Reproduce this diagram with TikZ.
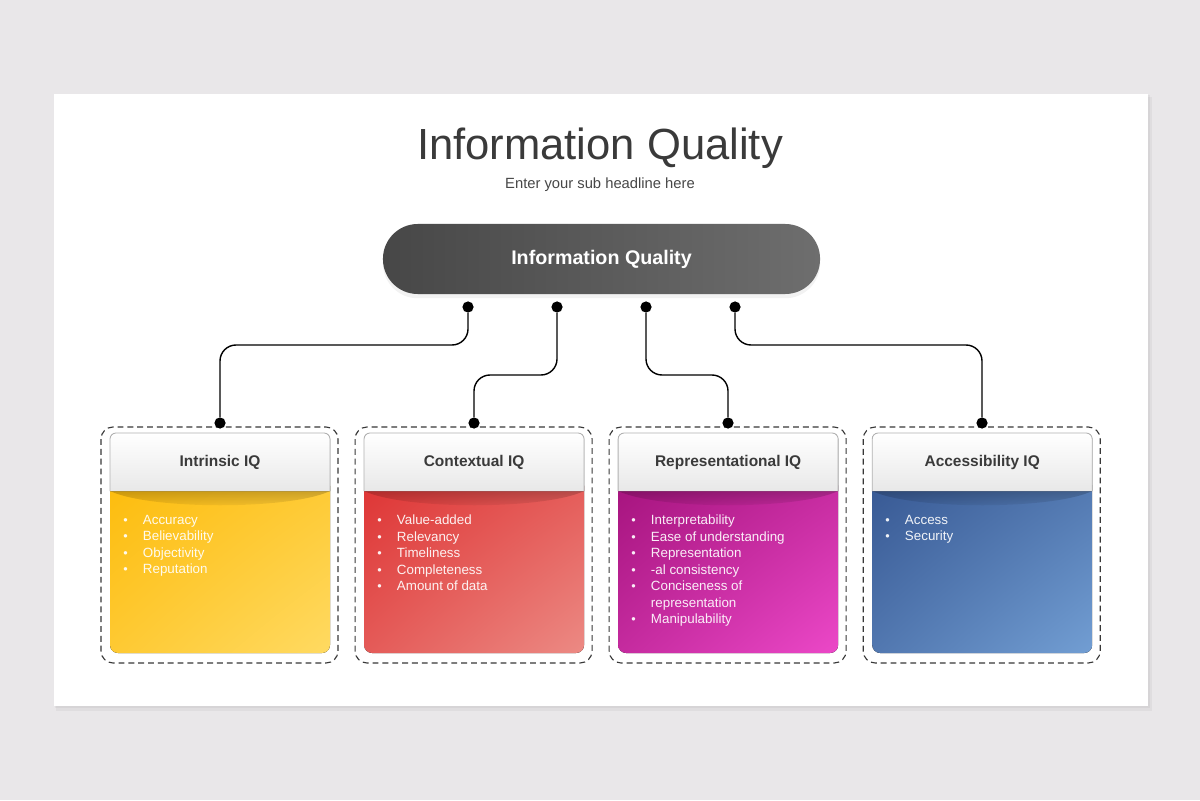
\documentclass[tikz,border=0pt]{standalone}
\usepackage{fontspec}
\setmainfont{Liberation Sans}
\usepackage{xcolor}
\usetikzlibrary{positioning,calc,shadows,shadings,fadings}

\definecolor{pagebg}{HTML}{E9E7E9}
\definecolor{titlegray}{HTML}{3A3A3A}
\definecolor{pillleft}{HTML}{474747}
\definecolor{pillright}{HTML}{6E6E6E}
\definecolor{ylwA}{HTML}{FDBC0C}
\definecolor{ylwB}{HTML}{FFDA62}
\definecolor{redA}{HTML}{DE3434}
\definecolor{redB}{HTML}{EC8A84}
\definecolor{magA}{HTML}{A5137D}
\definecolor{magB}{HTML}{EC48C8}
\definecolor{bluA}{HTML}{375893}
\definecolor{bluB}{HTML}{729ED3}

\newcommand{\bitem}{\makebox[14pt][l]{\fontsize{9}{9}\selectfont\textbullet}}

\begin{document}
\begin{tikzpicture}[x=0.025cm, y=-0.025cm,
    dot/.style={circle, fill=black, inner sep=0pt, minimum size=2.8mm},
    wire/.style={line width=1pt, rounded corners=4mm},
    pill/.style={rectangle, rounded corners=8.7mm, left color=pillleft, right color=pillright, minimum width=109.25mm, minimum height=17.5mm, text=white, font=\bfseries\fontsize{14}{16}\selectfont, drop shadow={opacity=0.1, shadow xshift=0pt, shadow yshift=-3pt}},
    dashbox/.style={draw=black!78, dash pattern=on 4.2pt off 2.8pt, line width=0.8pt, rounded corners=3mm},
    headbox/.style={draw=black!30, line width=0.6pt, top color=white, bottom color=black!9, rounded corners=1.5mm},
    headtext/.style={font=\bfseries\fontsize{11}{13}\selectfont, text=titlegray},
    items/.style={anchor=north west, inner sep=0pt, align=left, text=white, text opacity=0.92, font=\fontsize{9.5}{11.7}\selectfont}
  ]
  % page and slide
  \fill[pagebg] (0,0) rectangle (1200,800);
  \useasboundingbox (0,0) rectangle (1200,800);
  \fill[black, opacity=0.04] (56,97) rectangle (1152,711);
  \fill[black, opacity=0.04] (55,95) rectangle (1150,708);
  \fill[white] (54,94) rectangle (1148,706);

  % headline
  \node[anchor=base, font=\fontsize{31}{36}\selectfont, text=titlegray] (title) at (600,160) {Information Quality};
  \node[anchor=base, font=\fontsize{10.5}{12}\selectfont, text=black!72] (subtitle) at (600,189) {Enter your sub headline here};

  % main pill
  \node[pill] (iq) at (601.5,259) {Information Quality};

  % cards
  \foreach \i/\ca/\cb/\hd in {0/ylwA/ylwB/Intrinsic IQ, 1/redA/redB/Contextual IQ, 2/magA/magB/Representational IQ, 3/bluA/bluB/Accessibility IQ}{
    \begin{scope}[xshift=\i*6.35cm]
      \draw[dashbox] (101,427) rectangle (338,663);
      \fill[upper left=\ca, upper right=\ca!55!\cb, lower left=\ca!55!\cb, lower right=\cb, rounded corners=2mm] (110,478) rectangle (330,653);
      \fill[black, opacity=0.2, path fading=south] (110,491) .. controls (150,510) and (290,510) .. (330,491) -- cycle;
      \filldraw[headbox] (110,491) -- (110,433) -- (330,433) -- (330,491);
      \node[headtext] (head\i) at (220,462) {\hd};
    \end{scope}
  }

  % bullet lists
  \node[items] (list0) at (123,515) {\bitem Accuracy\\ \bitem Believability\\ \bitem Objectivity\\ \bitem Reputation};
  \node[items] (list1) at (377,515) {\bitem Value-added\\ \bitem Relevancy\\ \bitem Timeliness\\ \bitem Completeness\\ \bitem Amount of data};
  \node[items] (list2) at (631,515) {\bitem Interpretability\\ \bitem Ease of understanding\\ \bitem Representation\\ \bitem -al consistency\\ \bitem Conciseness of\\ \hspace*{14pt}representation\\ \bitem Manipulability};
  \node[items] (list3) at (885,515) {\bitem Access\\ \bitem Security};

  % dots
  \foreach \i in {0,...,3}{
    \node[dot] (t\i) at (468+89*\i,307) {};
    \node[dot] (b\i) at (220+254*\i,423) {};
  }

  % connectors
  \draw[wire] (t0) -- (t0 |- 0,345) -- (b0 |- 0,345) -- (b0);
  \draw[wire] (t1) -- (t1 |- 0,375) -- (b1 |- 0,375) -- (b1);
  \draw[wire] (t2) -- (t2 |- 0,375) -- (b2 |- 0,375) -- (b2);
  \draw[wire] (t3) -- (t3 |- 0,345) -- (b3 |- 0,345) -- (b3);
\end{tikzpicture}
\end{document}
